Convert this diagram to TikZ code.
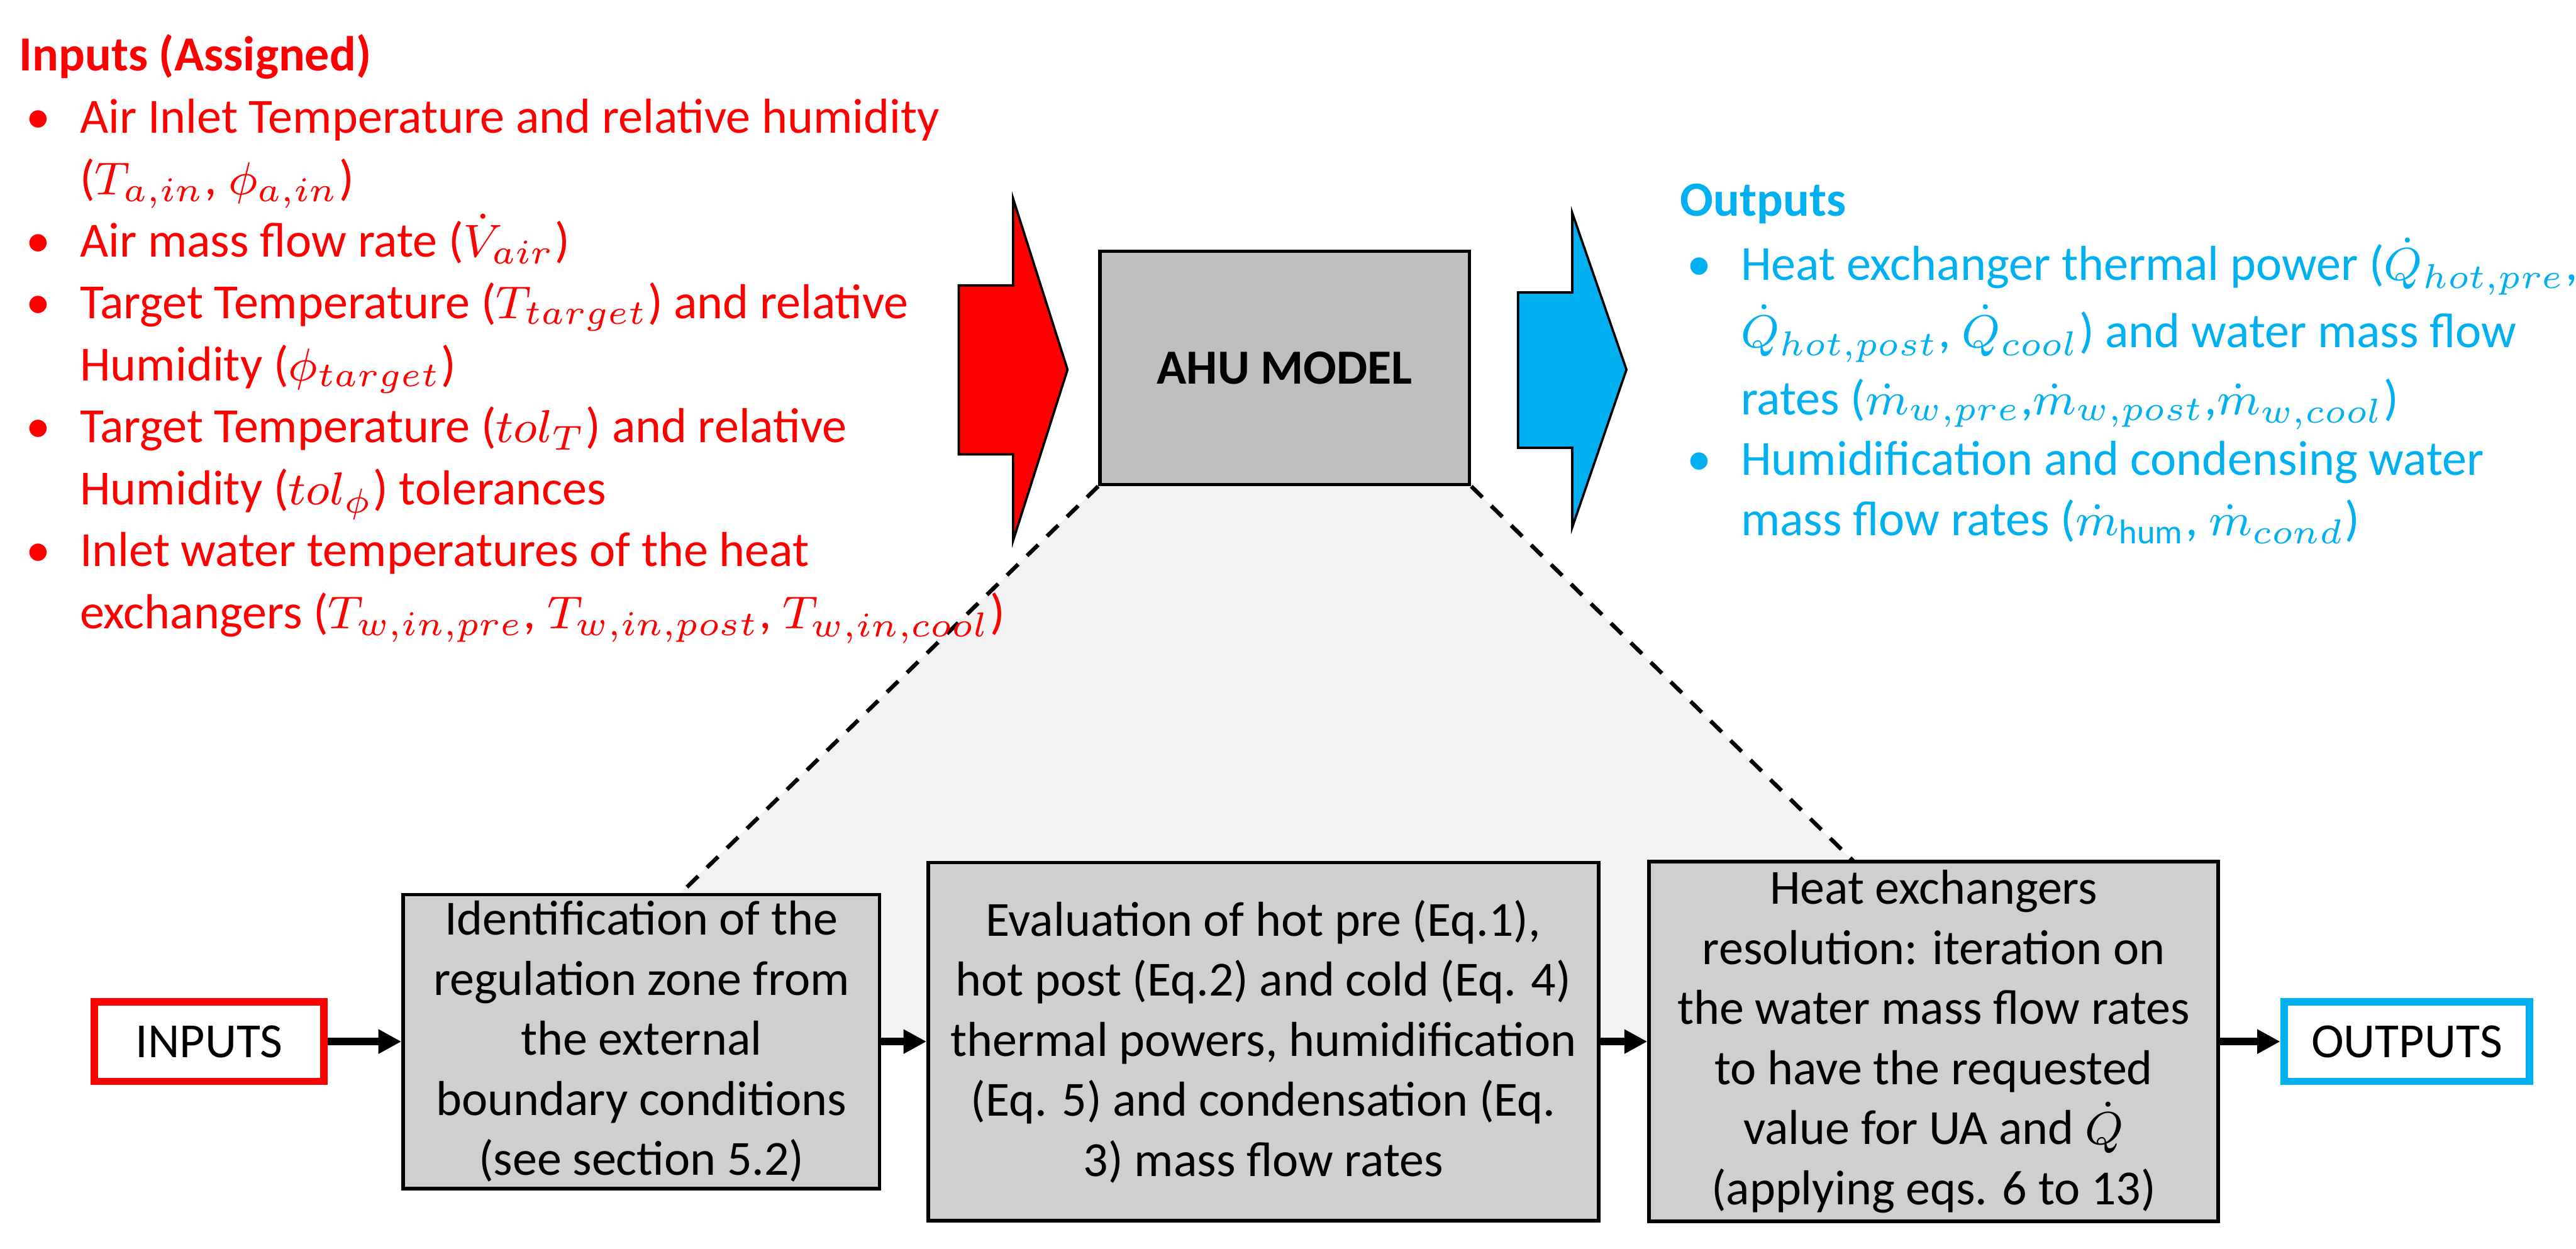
\documentclass[tikz,border=0pt]{standalone}
\usepackage{amsmath}
\usepackage{fontspec}
\setmainfont{Carlito}
\usepackage{tikz}
\usetikzlibrary{arrows.meta,positioning}
\definecolor{inred}{HTML}{FF0000}
\definecolor{outblue}{HTML}{00B0F0}
\definecolor{boxgray}{HTML}{D0CECE}
\definecolor{modelgray}{HTML}{BFBFBF}
\definecolor{zoomgray}{HTML}{F2F2F2}
\newcommand{\bul}{\makebox[0.37cm][l]{\hspace{0.04cm}\textbullet}}
\newcommand{\cont}{\hspace*{0.37cm}}
\tikzset{
  listtext/.style={align=left,inner sep=0pt,anchor=base west,
                   font=\fontsize{8.5}{10.73}\selectfont},
  procbox/.style={draw=black,fill=boxgray,line width=0.6pt,align=center,
                  inner sep=1pt,font=\fontsize{8.5}{10.4}\selectfont},
  iobox/.style={fill=white,line width=1.3pt,minimum height=0.485cm,
                inner sep=1pt,font=\fontsize{8.5}{10.4}\selectfont},
  modelbox/.style={draw=black,fill=modelgray,line width=0.6pt,
                   minimum width=2.25cm,minimum height=1.42cm,
                   font=\fontsize{8.5}{10.4}\selectfont\bfseries},
  flowarr/.style={-{Triangle[length=1.4mm,width=1.4mm]},line width=1.35pt},
  zoomline/.style={line width=0.7pt,dash pattern=on 0.95mm off 0.75mm},
  blockarr/.style={draw=black,line width=0.4pt}
}

\begin{document}
\begin{tikzpicture}[x=1cm,y=1cm]
    \path[use as bounding box] (0,0) rectangle (15.68,7.60);

    % model block with its input and output arrows
    \node[modelbox] (model) at (7.82,5.36) {AHU MODEL};
    \draw[blockarr,fill=inred] (5.836,5.863) -- (6.167,5.863) -- (6.167,6.39)
      -- (6.498,5.35) -- (6.167,4.31) -- (6.167,4.834) -- (5.836,4.834) -- cycle;
    \draw[blockarr,fill=outblue] (9.24,5.82) -- (9.57,5.82) -- (9.57,6.304)
      -- (9.90,5.35) -- (9.57,4.39) -- (9.57,4.874) -- (9.24,4.874) -- cycle;

    % zoom into the model
    \fill[zoomgray] (model.south west) -- (model.south east) -- (12.40,1.26)
      -- (3.21,1.26) -- cycle;
    \coordinate (zl) at (4.14,2.16);
    \coordinate (zr) at (11.28,2.36);
    \draw[zoomline] (model.south west) -- (zl);
    \draw[zoomline] (model.south east) -- (zr);

    % lists (anchored on the baseline of their last line)
    \node[listtext,text=inred] (inlist) at (0.11,3.775)
      {\textbf{Inputs (Assigned)}\\
       \bul Air Inlet Temperature and relative humidity\\
       \cont($T_{a,in}$, $\phi_{a,in}$)\\
       \bul Air mass flow rate ($\dot{V}_{air}$)\\
       \bul Target Temperature ($T_{target}$) and relative\\
       \cont Humidity ($\phi_{target}$)\\
       \bul Target Temperature ($tol_{T}$) and relative\\
       \cont Humidity ($tol_{\phi}$) tolerances\\
       \bul Inlet water temperatures of the heat\\
       \cont exchangers ($T_{w,in,pre}$, $T_{w,in,post}$, $T_{w,in,cool}$)};
    \node[listtext,text=outblue] (outlist) at (10.22,4.34)
      {\textbf{Outputs}\\[0.015cm]
       \bul Heat exchanger thermal power ($\dot{Q}_{hot,pre}$,\\[0.03cm]
       \cont$\dot{Q}_{hot,post}$, $\dot{Q}_{cool}$) and water mass flow\\[0.035cm]
       \cont rates ($\dot{m}_{w,pre}$,$\dot{m}_{w,post}$,$\dot{m}_{w,cool}$)\\[-0.01cm]
       \bul Humidification and condensing water\\[-0.01cm]
       \cont mass flow rates ($\dot{m}_{\mathrm{hum}}$, $\dot{m}_{cond}$)};

    % process chain
    \node[iobox,draw=inred,minimum width=1.40cm] (inputs) at (1.273,1.26) {INPUTS};
    \node[procbox,minimum width=2.90cm,minimum height=1.79cm] (zone) at (3.904,1.26)
      {Identification of the\\regulation zone from\\the external\\boundary conditions\\(see section 5.2)};
    \node[procbox,minimum width=4.08cm,minimum height=2.18cm] (evalbox) at (7.69,1.26)
      {Evaluation of hot pre (Eq.1),\\hot post (Eq.2) and cold (Eq. 4)\\thermal powers, humidification\\(Eq. 5) and condensation (Eq.\\3) mass flow rates};
    \node[procbox,minimum width=3.465cm,minimum height=2.19cm] (hxbox) at (11.77,1.26)
      {Heat exchangers\\resolution: iteration on\\the water mass flow rates\\to have the requested\\value for UA and $\dot{Q}$\\(applying eqs. 6 to 13)};
    \node[iobox,draw=outblue,minimum width=1.495cm] (outputs) at (14.65,1.26) {OUTPUTS};
    \draw[flowarr] (inputs) -- (zone);
    \draw[flowarr] (zone) -- (evalbox);
    \draw[flowarr] (evalbox) -- (hxbox);
    \draw[flowarr] (hxbox) -- (outputs);
\end{tikzpicture}
\end{document}
